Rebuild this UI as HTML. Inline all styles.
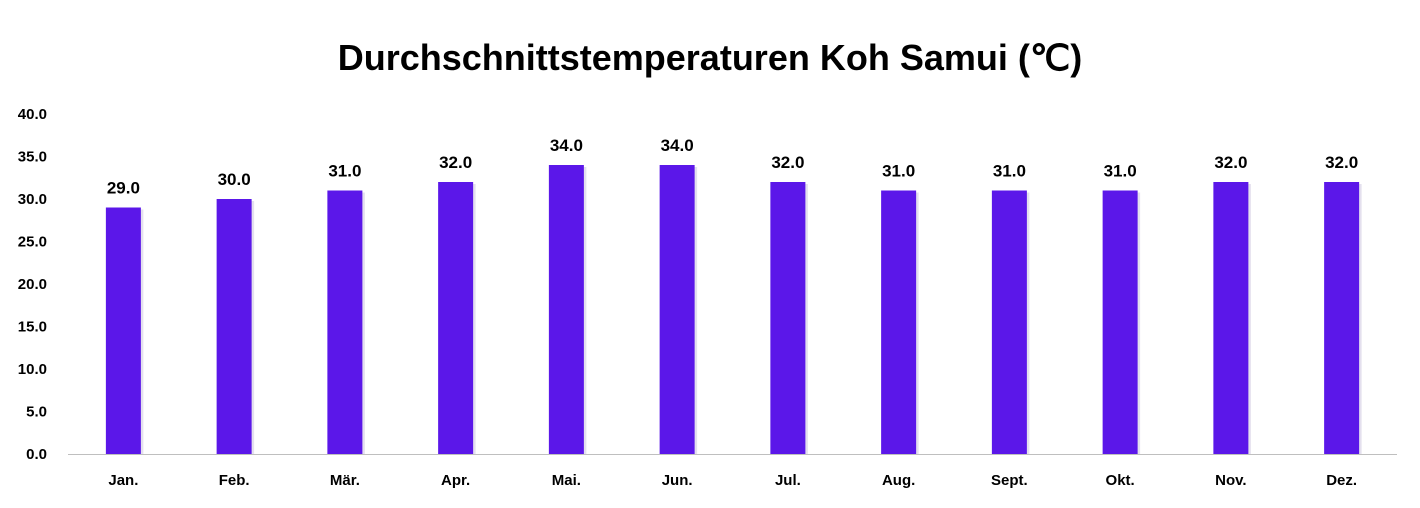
<!DOCTYPE html>
<html><head><meta charset="utf-8"><style>
body{margin:0;background:#fff;width:1420px;height:503px;overflow:hidden;font-family:"Liberation Sans",sans-serif}
</style></head><body>
<svg id="c" width="1420" height="503">
<text x="710" y="70" text-anchor="middle" font-size="36" font-weight="bold" fill="#000">Durchschnittstemperaturen Koh Samui (℃)</text>
</svg>
<script>
const categories=["Jan.","Feb.","Mär.","Apr.","Mai.","Jun.","Jul.","Aug.","Sept.","Okt.","Nov.","Dez."];
const values=[29,30,31,32,34,34,32,31,31,31,32,32];
const ticks=[0,5,10,15,20,25,30,35,40];
const svg=document.getElementById('c');const NS='http://www.w3.org/2000/svg';
const x0=68,x1=1397,yBase=454,yTop=114,yMax=40;
const y=v=>yBase-(v/yMax)*(yBase-yTop);
const step=(x1-x0)/categories.length;
const xc=i=>x0+step*(i+0.5);
function mk(t,a,txt){const e=document.createElementNS(NS,t);for(const k in a)e.setAttribute(k,a[k]);if(txt!==undefined)e.textContent=txt;svg.appendChild(e);return e;}
ticks.forEach(t=>{const e=mk('text',{x:47,y:y(t)+5,'text-anchor':'end','font-size':15,'font-weight':'bold',fill:'#000'},t.toFixed(1));

});
values.forEach((v,i)=>{
const s=mk('rect',{x:xc(i)-17+2,y:y(v)+2,width:35,height:yBase-y(v)-2,fill:'#c9c2dd',opacity:0.5});


const b=mk('rect',{x:xc(i)-17.5,y:y(v),width:35,height:yBase-y(v),fill:'#5b17e9'});


const l=mk('text',{x:xc(i),y:y(v)-14,'text-anchor':'middle','font-size':17,'font-weight':'bold',fill:'#000'},v.toFixed(1));


const c=mk('text',{x:xc(i),y:485,'text-anchor':'middle','font-size':15,'font-weight':'bold',fill:'#000'},categories[i]);


});
const ax=mk('line',{x1:x0,x2:x1,y1:yBase+0.5,y2:yBase+0.5,stroke:'#bfbfbf','stroke-width':1});


</script>
</body></html>
